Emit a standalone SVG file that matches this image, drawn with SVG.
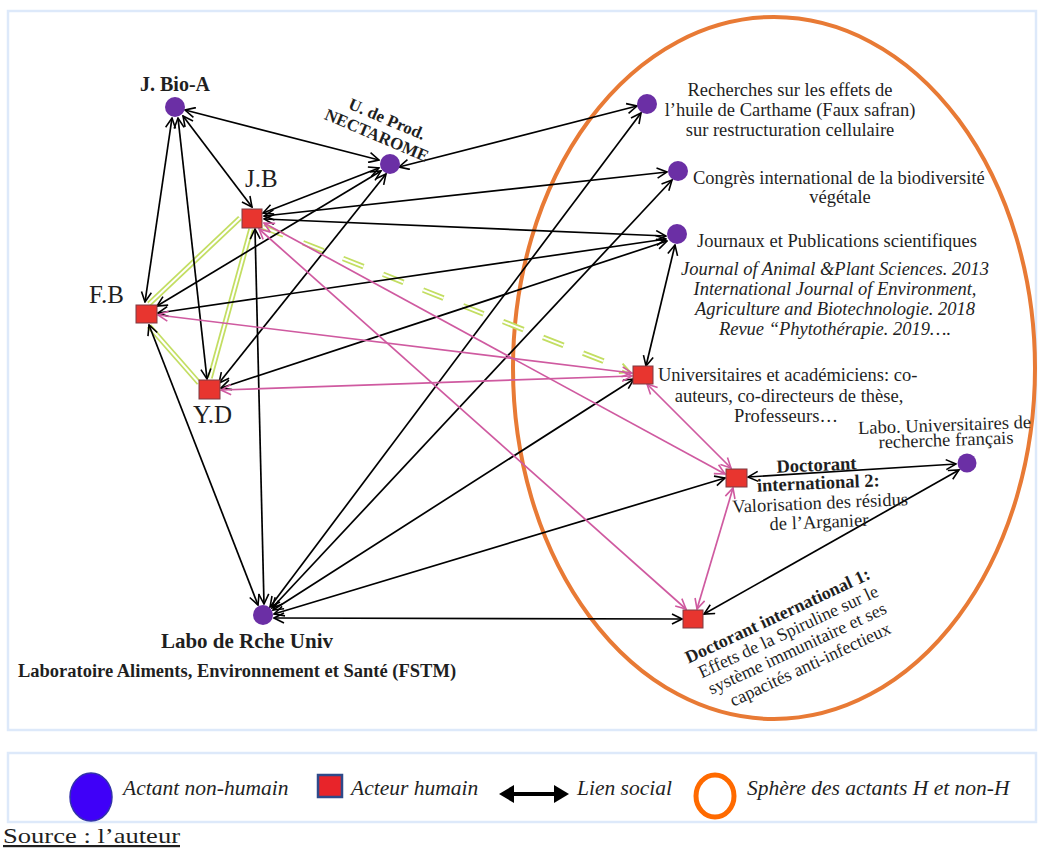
<svg xmlns="http://www.w3.org/2000/svg" width="1038" height="850" viewBox="0 0 1038 850">
<defs>
<style>
.t{font-family:"Liberation Serif","Times New Roman",serif;fill:#1f1f1f}
.b{font-weight:bold}
.i{font-style:italic}
.bl{stroke:#000;stroke-width:1.7;fill:none;marker-start:url(#ab);marker-end:url(#ab)}
.pk{stroke:#cf5aa0;stroke-width:1.7;fill:none;marker-start:url(#ap);marker-end:url(#ap)}
.yo{stroke:#c3de62;stroke-width:5.5;fill:none}
.yi{stroke:#fff;stroke-width:2;fill:none}
.act{fill:#6b2fa5}
.hum{fill:#e8352f;stroke:#7d3b43;stroke-width:1}
.frame{fill:none;stroke:#dde9fa;stroke-width:2.5}
</style>
<marker id="ab" viewBox="0 0 12 12" refX="11" refY="6" markerWidth="12" markerHeight="12" markerUnits="userSpaceOnUse" orient="auto-start-reverse"><path d="M1,1 L11,6 L1,11" fill="none" stroke="#000" stroke-width="1.6"/></marker>
<marker id="ap" viewBox="0 0 12 12" refX="11" refY="6" markerWidth="12" markerHeight="12" markerUnits="userSpaceOnUse" orient="auto-start-reverse"><path d="M1,1 L11,6 L1,11" fill="none" stroke="#cf5aa0" stroke-width="1.6"/></marker>
<marker id="ay" viewBox="0 0 12 12" refX="11" refY="6" markerWidth="12" markerHeight="12" markerUnits="userSpaceOnUse" orient="auto"><path d="M1,1 L11,6 L1,11" fill="none" stroke="#c3de62" stroke-width="2"/></marker>
</defs>
<rect width="1038" height="850" fill="#fff"/>
<rect class="frame" x="8" y="11" width="1028" height="719"/>
<rect class="frame" x="8" y="753" width="1028" height="69"/>

<ellipse id="sphere" cx="774" cy="368" rx="261" ry="351" fill="none" stroke="#e87a35" stroke-width="4"/>

<g id="connectors">
<g id="yellow">
<line class="yo" x1="240" y1="218" x2="149" y2="304"/><line class="yi" x1="240" y1="218" x2="149" y2="304"/>
<line class="yo" x1="251" y1="229" x2="210" y2="378"/><line class="yi" x1="251" y1="229" x2="210" y2="378"/>
<line class="yo" x1="149" y1="326" x2="199" y2="383"/><line class="yi" x1="149" y1="326" x2="199" y2="383"/>
<line class="yo" x1="263" y1="227" x2="626" y2="370" stroke-dasharray="22 21"/><line class="yi" x1="263" y1="227" x2="626" y2="370" stroke-dasharray="22 21"/>
<line x1="600" y1="360" x2="630" y2="372" stroke="none" marker-end="url(#ay)"/>
</g>
<g id="black">
<line class="bl" x1="185" y1="110" x2="379" y2="160"/>
<line class="bl" x1="183" y1="116" x2="252" y2="207"/>
<line class="bl" x1="172" y1="118" x2="145" y2="302"/>
<line class="bl" x1="178" y1="118" x2="207" y2="379"/>
<line class="bl" x1="263" y1="213" x2="379" y2="168"/>
<line class="bl" x1="157" y1="306" x2="381" y2="171"/>
<line class="bl" x1="219" y1="383" x2="386" y2="174"/>
<line class="bl" x1="399" y1="167" x2="637" y2="106"/>
<line class="bl" x1="264" y1="216" x2="667" y2="172"/>
<line class="bl" x1="264" y1="219" x2="666" y2="236"/>
<line class="bl" x1="158" y1="313" x2="666" y2="239"/>
<line class="bl" x1="221" y1="388" x2="667" y2="241"/>
<line class="bl" x1="255" y1="229" x2="264" y2="604"/>
<line class="bl" x1="149" y1="325" x2="258" y2="605"/>
<line class="bl" x1="270" y1="607" x2="641" y2="113"/>
<line class="bl" x1="272" y1="608" x2="672" y2="180"/>
<line class="bl" x1="273" y1="610" x2="634" y2="379"/>
<line class="bl" x1="274" y1="614" x2="725" y2="478"/>
<line class="bl" x1="274" y1="618" x2="682" y2="619"/>
<line class="bl" x1="675" y1="245" x2="646" y2="366"/>
<line class="bl" x1="748" y1="477" x2="956" y2="464"/>
<line class="bl" x1="704" y1="614" x2="959" y2="470"/>
</g>
<g id="pink">
<line class="pk" x1="264" y1="223" x2="725" y2="474"/>
<line class="pk" x1="259" y1="229" x2="686" y2="609"/>
<line class="pk" x1="158" y1="315" x2="632" y2="373"/>
<line class="pk" x1="221" y1="390" x2="632" y2="376"/>
<line class="pk" x1="647" y1="384" x2="731" y2="468"/>
<line class="pk" x1="733" y1="488" x2="697" y2="609"/>
</g>
</g>

<g id="n-jbioa"><circle class="act" cx="175" cy="107" r="10"/><text class="t b" x="175" y="91" font-size="20" text-anchor="middle">J. Bio-A</text></g>
<g id="n-nectarome"><circle class="act" cx="390" cy="164" r="10"/>
<g transform="translate(377,135) rotate(23)"><text class="t b" x="3" y="-13" font-size="17" text-anchor="middle">U. de Prod.</text><text class="t b" x="0" y="6" font-size="17" text-anchor="middle">NECTAROME</text></g></g>
<g id="n-jb"><rect class="hum" x="242" y="209" width="20" height="19"/><text class="t" x="245" y="187" font-size="25">J.B</text></g>
<g id="n-fb"><rect class="hum" x="136" y="305" width="21" height="18"/><text class="t" x="89" y="303" font-size="25">F.B</text></g>
<g id="n-yd"><rect class="hum" x="199" y="380" width="21" height="19"/><text class="t" x="193" y="423" font-size="25">Y.D</text></g>
<g id="n-labo"><circle class="act" cx="263" cy="615" r="10"/><text class="t b" x="247" y="648" font-size="21" text-anchor="middle">Labo de Rche Univ</text><text class="t b" x="237" y="677" font-size="18.5" text-anchor="middle">Laboratoire Aliments, Environnement et Santé (FSTM)</text></g>
<g id="n-recherches"><circle class="act" cx="647" cy="104" r="10"/>
<text class="t" font-size="18.5" text-anchor="middle"><tspan x="790" y="96">Recherches sur les effets de</tspan><tspan x="790" y="116">l’huile de Carthame (Faux safran)</tspan><tspan x="790" y="136">sur restructuration cellulaire</tspan></text></g>
<g id="n-congres"><circle class="act" cx="678" cy="171" r="10"/>
<text class="t" font-size="18.5"><tspan x="693" y="184">Congrès international de la biodiversité</tspan><tspan x="840" y="203" text-anchor="middle">végétale</tspan></text></g>
<g id="n-journaux"><circle class="act" cx="677" cy="234" r="10"/>
<text class="t" x="697" y="247" font-size="18.5">Journaux et Publications scientifiques</text>
<text class="t i" font-size="18.5" text-anchor="middle"><tspan x="835" y="275">Journal of Animal &amp;Plant Sciences. 2013</tspan><tspan x="835" y="295">International Journal of Environment,</tspan><tspan x="835" y="315">Agriculture and Biotechnologie. 2018</tspan><tspan x="835" y="335">Revue “Phytothérapie. 2019….</tspan></text></g>
<g id="n-universitaires"><rect class="hum" x="633" y="366" width="20" height="18"/>
<text class="t" font-size="18.5"><tspan x="658" y="381">Universitaires et académiciens: co-</tspan><tspan x="789" y="402" text-anchor="middle">auteurs, co-directeurs de thèse,</tspan><tspan x="786" y="422" text-anchor="middle">Professeurs…</tspan></text></g>
<g id="n-labofr"><circle class="act" cx="967" cy="463" r="9.5"/>
<g transform="rotate(-2,945,440)"><text class="t" font-size="18.5" text-anchor="middle"><tspan x="945" y="431">Labo. Universitaires de</tspan><tspan x="946" y="446">recherche français</tspan></text></g></g>
<g id="n-doc2"><rect class="hum" x="726" y="469" width="21" height="18"/>
<g transform="rotate(-2.5,818,500)"><text class="t" font-size="18.5" text-anchor="middle"><tspan class="b" x="818" y="471">Doctorant</tspan><tspan class="b" x="819" y="489">international 2:</tspan><tspan x="820" y="509">Valorisation des résidus</tspan><tspan x="818" y="528">de l’Arganier</tspan></text></g></g>
<g id="n-doc1"><rect class="hum" x="683" y="610" width="20" height="18"/>
<g transform="translate(780,621) rotate(-25)"><text class="t" font-size="18" text-anchor="middle"><tspan class="b" x="0" y="0">Doctorant international 1:</tspan><tspan x="3" y="19">Effets de la Spiruline sur le</tspan><tspan x="4" y="38">système immunitaire et ses</tspan><tspan x="9" y="58">capacités anti-infectieux</tspan></text></g></g>

<g id="legend">
<ellipse cx="91" cy="797" rx="21" ry="24" fill="#3f00f8" stroke="#3333aa" stroke-width="1.5"/>
<text class="t i" x="123" y="795" font-size="21.5">Actant non-humain</text>
<rect x="318" y="775" width="24" height="22" fill="#e8242a" stroke="#2e4a8a" stroke-width="2.5"/>
<text class="t i" x="351" y="795" font-size="21.5">Acteur humain</text>
<line x1="510" y1="794" x2="558" y2="794" stroke="#000" stroke-width="4"/>
<polygon points="499,794 514,785 514,803" fill="#000"/>
<polygon points="569,794 554,785 554,803" fill="#000"/>
<text class="t i" x="577" y="795" font-size="21.5">Lien social</text>
<ellipse cx="715" cy="796" rx="19" ry="21" fill="none" stroke="#ff6a00" stroke-width="5"/>
<text class="t i" x="747" y="795" font-size="21.5">Sphère des actants H et non-H</text>
</g>
<text class="t" x="3" y="843" font-size="22" textLength="177" lengthAdjust="spacingAndGlyphs" text-decoration="underline">Source : l’auteur</text>
</svg>
